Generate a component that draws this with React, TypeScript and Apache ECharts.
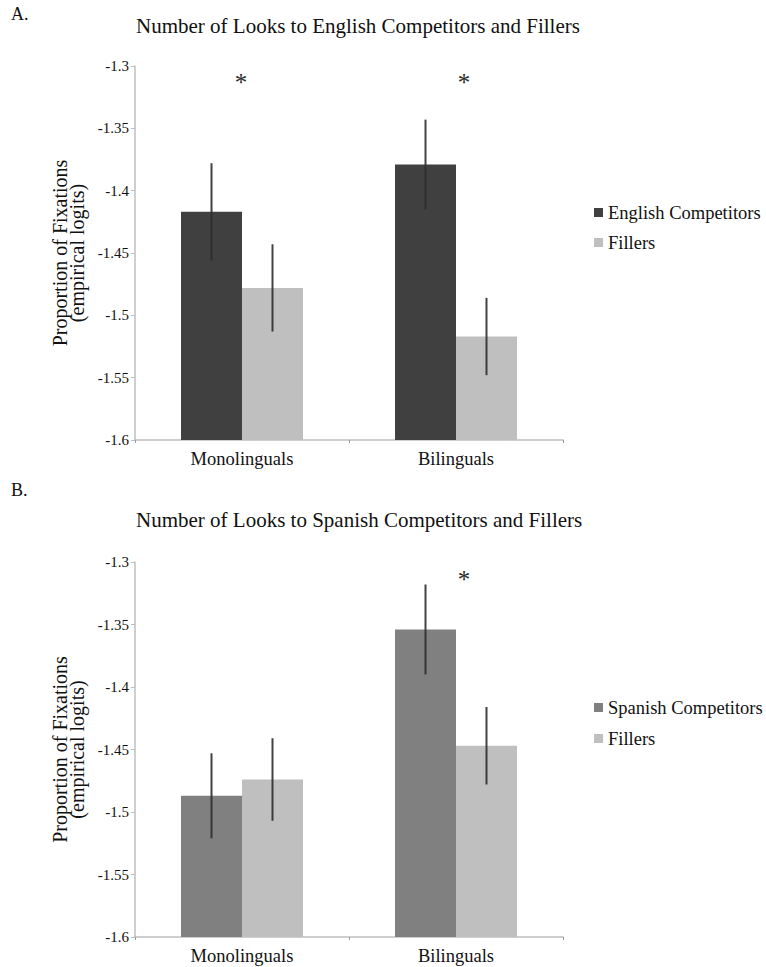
import React, { useEffect, useRef } from "react";
import * as echarts from "echarts";

const groups = ["Monolinguals", "Bilinguals"];

// Panel A
const englishCompetitors = [-1.417, -1.379];
const englishCompetitorsErr = [0.039, 0.036];
const fillersA = [-1.478, -1.517];
const fillersAErr = [0.035, 0.031];
const starsA = [0, 1];

// Panel B
const spanishCompetitors = [-1.487, -1.354];
const spanishCompetitorsErr = [0.034, 0.036];
const fillersB = [-1.474, -1.447];
const fillersBErr = [0.033, 0.031];
const starsB = [1];

const yMin = -1.6;
const yMax = -1.3;
const yStep = 0.05;
const starLevel = -1.3104;

const FONT = "Liberation Serif";
const DARK = "#404040";
const MID = "#808080";
const LIGHT = "#bfbfbf";
const AXIS = "#bfbfbf";
const TEXT = "#111111";
const STAR_DX = [-1, 8];

function errorSeries(idx: number, vals: number[], errs: number[], side: number) {
  return {
    type: "custom",
    xAxisIndex: idx,
    yAxisIndex: idx,
    silent: true,
    z: 5,
    data: vals.map((v, i) => [i, v - errs[i], v + errs[i]]),
    renderItem: (params: any, api: any) => {
      const band = api.size([1, 0])[0];
      const off = (side * band * 0.57) / 4;
      const lo = api.coord([api.value(0), api.value(1)]);
      const hi = api.coord([api.value(0), api.value(2)]);
      return {
        type: "line",
        shape: { x1: lo[0] + off, y1: lo[1], x2: hi[0] + off, y2: hi[1] },
        style: { stroke: "#2e2e2e", lineWidth: 2, opacity: 0.9 },
      };
    },
  };
}

function starSeries(idx: number, cats: number[]) {
  return {
    type: "custom",
    xAxisIndex: idx,
    yAxisIndex: idx,
    silent: true,
    z: 6,
    data: cats.map((c) => [c, starLevel]),
    renderItem: (params: any, api: any) => {
      const c = api.value(0);
      const p = api.coord([c, api.value(1)]);
      return {
        type: "text",
        x: p[0] + STAR_DX[c],
        y: p[1] + 4,
        style: {
          text: "*",
          fontSize: 25,
          fontFamily: FONT,
          fill: "#2a2a2a",
          align: "center",
          verticalAlign: "middle",
        },
      };
    },
  };
}

function xAxisCfg(idx: number) {
  return {
    type: "category",
    gridIndex: idx,
    data: groups,
    axisLine: { show: true, lineStyle: { color: AXIS, width: 1.5 } },
    axisTick: { show: true, length: 3, lineStyle: { color: "#999" } },
    axisLabel: { fontSize: 18.5, color: TEXT, fontFamily: FONT, margin: 9 },
  };
}

function yAxisCfg(idx: number) {
  return {
    type: "value",
    gridIndex: idx,
    min: yMin,
    max: yMax,
    interval: yStep,
    startValue: yMin,
    splitLine: { show: false },
    axisLine: { show: true, lineStyle: { color: AXIS, width: 1.5 } },
    axisTick: { show: true, length: 4, lineStyle: { color: AXIS } },
    axisLabel: {
      fontSize: 15,
      color: TEXT,
      fontFamily: FONT,
      margin: 6,
      formatter: (v: number) => String(Math.round(v * 100) / 100),
    },
    name: "Proportion of Fixations\n(empirical logits)",
    nameLocation: "middle",
    nameGap: 44,
    nameRotate: 90,
    nameTextStyle: { fontSize: 20, lineHeight: 17, color: TEXT, fontFamily: FONT },
  };
}

export default function App() {
  const ref = useRef<HTMLDivElement>(null);
  useEffect(() => {
    if (!ref.current) return;
    const chart = echarts.init(ref.current, undefined, { renderer: "svg" });
    const titleStyle = { fontSize: 21, fontWeight: "normal", color: TEXT, fontFamily: FONT };
    const letterStyle = { fontSize: 18, fontWeight: "normal", color: TEXT, fontFamily: FONT };
    chart.setOption({
      animation: false,
      backgroundColor: "#ffffff",
      textStyle: { fontFamily: FONT },
      title: [
        { text: "A.", left: 11, top: 5, textStyle: letterStyle, padding: 0 },
        { text: "Number of Looks to English Competitors and Fillers", left: 136, top: 15, textStyle: titleStyle, padding: 0 },
        { text: "B.", left: 11, top: 481, textStyle: letterStyle, padding: 0 },
        { text: "Number of Looks to Spanish Competitors and Fillers", left: 136, top: 509, textStyle: titleStyle, padding: 0 },
      ],
      legend: [
        {
          orient: "vertical",
          left: 594,
          top: 203,
          itemWidth: 9,
          itemHeight: 9,
          itemGap: 11,
          icon: "rect",
          padding: 0,
          data: ["English Competitors", "Fillers"],
          textStyle: { fontSize: 18.5, color: TEXT, fontFamily: FONT },
          selectedMode: false,
        },
        {
          orient: "vertical",
          left: 594,
          top: 698,
          itemWidth: 9,
          itemHeight: 9,
          itemGap: 12,
          icon: "rect",
          padding: 0,
          data: ["Spanish Competitors", "Fillers"],
          textStyle: { fontSize: 18.5, color: TEXT, fontFamily: FONT },
          selectedMode: false,
        },
      ],
      grid: [
        { left: 135, top: 66, width: 428, height: 374 },
        { left: 135, top: 562, width: 428, height: 375 },
      ],
      xAxis: [xAxisCfg(0), xAxisCfg(1)],
      yAxis: [yAxisCfg(0), yAxisCfg(1)],
      series: [
        {
          name: "English Competitors",
          type: "bar",
          xAxisIndex: 0,
          yAxisIndex: 0,
          data: englishCompetitors,
          itemStyle: { color: DARK },
          barGap: "0%",
          barCategoryGap: "43%",
        },
        {
          name: "Fillers",
          type: "bar",
          xAxisIndex: 0,
          yAxisIndex: 0,
          data: fillersA,
          itemStyle: { color: LIGHT },
          barGap: "0%",
          barCategoryGap: "43%",
        },
        {
          name: "Spanish Competitors",
          type: "bar",
          xAxisIndex: 1,
          yAxisIndex: 1,
          data: spanishCompetitors,
          itemStyle: { color: MID },
          barGap: "0%",
          barCategoryGap: "43%",
        },
        {
          name: "Fillers",
          type: "bar",
          xAxisIndex: 1,
          yAxisIndex: 1,
          data: fillersB,
          itemStyle: { color: LIGHT },
          barGap: "0%",
          barCategoryGap: "43%",
        },
        errorSeries(0, englishCompetitors, englishCompetitorsErr, -1),
        errorSeries(0, fillersA, fillersAErr, 1),
        errorSeries(1, spanishCompetitors, spanishCompetitorsErr, -1),
        errorSeries(1, fillersB, fillersBErr, 1),
        starSeries(0, starsA),
        starSeries(1, starsB),
      ],
    });
    return () => chart.dispose();
  }, []);
  return (
    <div
      ref={ref}
      style={{ position: "absolute", left: 0, top: 0, width: 766, height: 967, background: "#fff" }}
    />
  );
}
